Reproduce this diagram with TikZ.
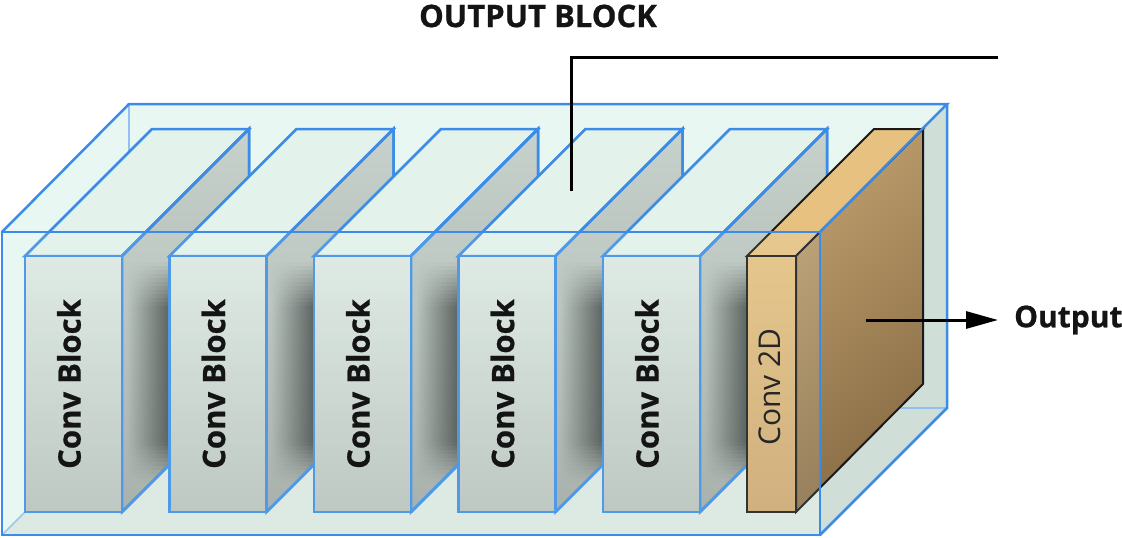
\documentclass[tikz,border=0pt]{standalone}
\usepackage{fontspec}
\setmainfont{Open Sans}[BoldFeatures={FakeBold=0.7}]
\usetikzlibrary{arrows.meta,fadings}
\definecolor{edgeblue}{RGB}{58,140,232}
\definecolor{mint}{RGB}{232,247,241}
\definecolor{floorc}{RGB}{220,232,226}
\definecolor{rightc}{RGB}{208,222,216}
\definecolor{btop}{RGB}{228,242,236}
\definecolor{bfrontT}{RGB}{222,233,227}
\definecolor{bfrontB}{RGB}{185,194,189}
\definecolor{bsideT}{RGB}{200,210,204}
\definecolor{bsideB}{RGB}{160,168,163}
\definecolor{shadowc}{RGB}{50,57,54}
\definecolor{ctop}{RGB}{230,193,128}
\definecolor{cfrontT}{RGB}{229,192,127}
\definecolor{cfrontB}{RGB}{205,167,112}
\definecolor{csideT}{RGB}{188,156,108}
\definecolor{csideB}{RGB}{136,108,68}
\definecolor{txt}{RGB}{20,20,20}
\tikzfading[name=tored, left color=transparent!100, right color=transparent!0]
\tikzset{
  blueedge/.style={draw=edgeblue, line width=2.5pt, line join=miter},
  hiddenedge/.style={draw=edgeblue!55, line width=1.5pt},
  blkfront/.style={blueedge, top color=bfrontT, bottom color=bfrontB},
  blkside/.style={blueedge, top color=bsideT, bottom color=bsideB},
  blktop/.style={blueedge, fill=btop},
  slabedge/.style={draw=black!90, line width=2pt, line join=miter},
  convtxt/.style={rotate=90, font=\bfseries\fontsize{31}{31}\selectfont, text=txt, inner sep=0pt},
  lbltxt/.style={font=\bfseries\fontsize{30}{30}\selectfont, text=txt},
  blackline/.style={draw=black, line width=3pt},
}
\begin{document}
\begin{tikzpicture}[x=1pt,y=-1pt]
\useasboundingbox (0,0) rectangle (1122,538);
% outer box: back, top, left, floor, right faces
\fill[mint] (2,232) -- (129,104) -- (947,104) -- (947,408) -- (820,535) -- (2,535) -- cycle;
\fill[floorc] (2,535) -- (129,408) -- (947,408) -- (820,535) -- cycle;
\fill[rightc] (820,232) -- (947,104) -- (947,408) -- (820,535) -- cycle;
\draw[hiddenedge] (129,104) -- (129,408) -- (947,408);
\draw[hiddenedge] (2,535) -- (129,408);
% conv blocks
\foreach \i/\x in {1/25,2/169.5,3/314,4/458.5,5/603}{
  \path[blktop] (\x,256) -- (\x+127,129) -- (\x+224,129) -- (\x+97,256) -- cycle;
  \path[blkside] (\x+97,256) -- (\x+224,129) -- (\x+224,385) -- (\x+97,512) -- cycle;
  \begin{scope}
    \clip (\x+97,256) -- (\x+224,129) -- (\x+224,385) -- (\x+97,512) -- cycle;
    \foreach \yy in {262,266,...,478}{
      \pgfmathsetmacro\op{0.93*min(1,max(0,(\yy+2-262)/45),max(0,(482-\yy-2)/40))}
      \fill[shadowc, opacity=\op, path fading=tored] (\x+102,\yy) rectangle (\x+150,\yy+4);
    }
  \end{scope}
  \draw[blueedge] (\x+97,256) -- (\x+224,129) -- (\x+224,385) -- (\x+97,512);
  \path[blkfront] (\x,256) rectangle (\x+97,512);
}
% conv 2D slab
\path[slabedge, fill=ctop] (747,256) -- (874,129) -- (923,129) -- (796,256) -- cycle;
\path[slabedge, top color=csideT, bottom color=csideB, shading angle=40] (796,256) -- (923,129) -- (923,384) -- (796,512) -- cycle;
\path[slabedge, top color=cfrontT, bottom color=cfrontB] (747,256) rectangle (796,512);
% outer box front face and visible edges
\path[blueedge, fill=mint, fill opacity=0.12] (2,232) rectangle (820,535);
\draw[blueedge] (2,232) -- (129,104) -- (947,104) -- (820,232);
\draw[blueedge] (947,104) -- (947,408) -- (820,535);
% labels on blocks
\foreach \i/\x in {1/25,2/169.5,3/314,4/458.5,5/603}{
  \node[convtxt] (cb\i) at (\x+44,384) {Conv Block};
}
\node[rotate=90, font=\fontsize{30}{30}\selectfont, text=black!85, inner sep=0pt] (c2d) at (770,387) {Conv 2D};
% title and leader
\node[lbltxt, font=\bfseries\fontsize{31}{31}\selectfont] (title) at (538,16) {OUTPUT BLOCK};
\coordinate (lbot) at (571,191);
\coordinate (lcorner) at (571,57);
\coordinate (lend) at (998,57);
\draw[blackline] (lbot) -- (lcorner) -- (lend);
% output arrow
\coordinate (ostart) at (866,320);
\node[lbltxt, anchor=west, inner xsep=16pt] (out) at (998,320) {Output};
\draw[blackline, -{Triangle[length=32pt,width=17pt]}] (ostart) -- (out.west);
\end{tikzpicture}
\end{document}
